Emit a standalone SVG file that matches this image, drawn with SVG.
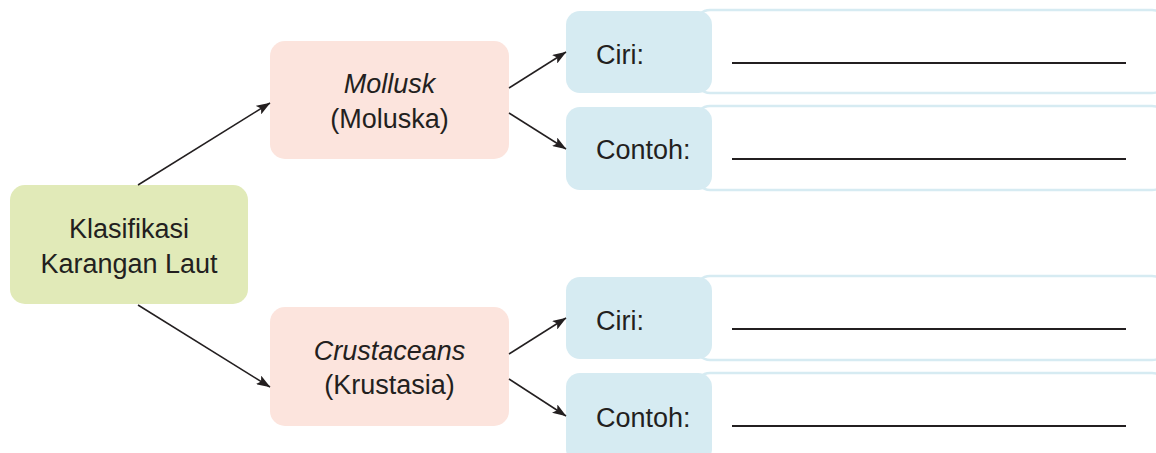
<svg xmlns="http://www.w3.org/2000/svg" width="1156" height="453" viewBox="0 0 1156 453">
<style>
text{font-family:"Liberation Sans",Arial,sans-serif;font-size:27px;fill:#231f20}
.c{text-anchor:middle}
.i{font-style:italic}
.root{fill:#e1eab8}
.cat{fill:#fce4dd}
.lab{fill:#d6ebf2}
.ans{fill:#fff;stroke:#d6ebf2;stroke-width:2.5}
.wl{stroke:#231f20;stroke-width:2}
.arr{stroke:#231f20;stroke-width:1.5;fill:none;marker-end:url(#ah)}
</style>
<defs>
<marker id="ah" viewBox="0 0 14 10" refX="13.5" refY="5" markerWidth="14" markerHeight="10" markerUnits="userSpaceOnUse" orient="auto">
<path d="M0,0 L14,5 L0,10 L3,5 z" fill="#231f20"/>
</marker>
</defs>
<g id="root">
<rect class="root" x="10" y="185" width="238" height="119" rx="15"/>
<text class="c" x="129" y="238">Klasifikasi</text>
<text class="c" x="129" y="273">Karangan Laut</text>
</g>
<g id="mollusk">
<rect class="cat" x="270" y="41" width="239" height="118" rx="15"/>
<text class="c i" x="389.5" y="93">Mollusk</text>
<text class="c" x="389.5" y="128">(Moluska)</text>
</g>
<g id="crustaceans">
<rect class="cat" x="270" y="307" width="239" height="119" rx="15"/>
<text class="c i" x="389.5" y="360">Crustaceans</text>
<text class="c" x="389.5" y="394">(Krustasia)</text>
</g>
<g id="m-ciri">
<rect class="ans" x="696" y="10" width="470" height="83" rx="14"/>
<rect class="lab" x="566" y="11" width="146" height="82" rx="14"/>
<text x="596" y="64">Ciri:</text>
<line class="wl" x1="732" y1="63" x2="1126" y2="63"/>
</g>
<g id="m-contoh">
<rect class="ans" x="696" y="106" width="470" height="84" rx="14"/>
<rect class="lab" x="566" y="107" width="146" height="83" rx="14"/>
<text x="596" y="159">Contoh:</text>
<line class="wl" x1="732" y1="159" x2="1126" y2="159"/>
</g>
<g id="c-ciri">
<rect class="ans" x="696" y="276" width="470" height="84" rx="14"/>
<rect class="lab" x="566" y="277" width="146" height="82" rx="14"/>
<text x="596" y="330">Ciri:</text>
<line class="wl" x1="732" y1="329" x2="1126" y2="329"/>
</g>
<g id="c-contoh">
<rect class="ans" x="696" y="373" width="470" height="90" rx="14"/>
<rect class="lab" x="566" y="373" width="146" height="90" rx="14"/>
<text x="596" y="427">Contoh:</text>
<line class="wl" x1="732" y1="426" x2="1126" y2="426"/>
</g>
<g id="connectors">
<line class="arr" x1="138" y1="185" x2="270" y2="103"/>
<line class="arr" x1="138" y1="305" x2="270" y2="387"/>
<line class="arr" x1="509" y1="88" x2="566" y2="52"/>
<line class="arr" x1="509" y1="113" x2="566" y2="149"/>
<line class="arr" x1="509" y1="354" x2="566" y2="318"/>
<line class="arr" x1="509" y1="379" x2="566" y2="416"/>
</g>
</svg>
